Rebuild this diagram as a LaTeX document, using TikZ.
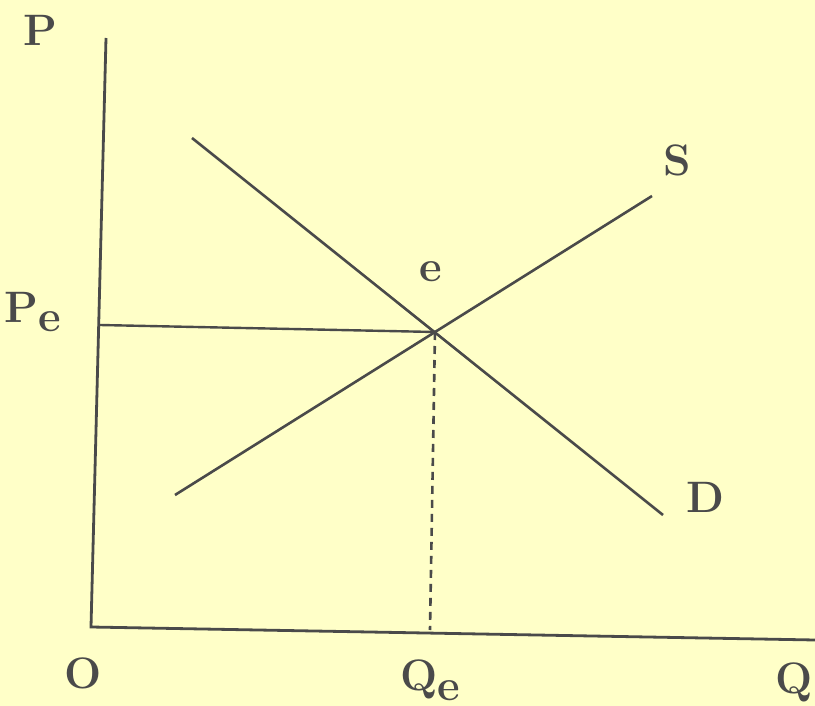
\documentclass[tikz,border=0pt]{standalone}
\usepackage{xcolor}
\usetikzlibrary{positioning, calc}
\definecolor{paper}{HTML}{FFFFC8}
\definecolor{ink}{HTML}{4A4A4A}
\begin{document}
\begin{tikzpicture}[
x=0.5pt, y=-0.5pt,
    axis/.style={draw=ink, line width=1.4pt},
    curve/.style={draw=ink, line width=1.3pt},
    guide/.style={draw=ink, line width=1.2pt},
    dropline/.style={draw=ink, line width=1.3pt, dash pattern=on 4pt off 3pt},
    lbl/.style={text=ink, font=\fontsize{22}{26}\selectfont\bfseries, inner sep=0pt}
]
    \fill[paper] (0,0) rectangle (815,706);
    \useasboundingbox (0,0) rectangle (815,706);

    % --- Axes ---
    \coordinate (origin) at (91,627);
    \coordinate (ptop) at (106,38);
    \coordinate (qend) at (815,640);
    \draw[axis] (ptop) -- (origin) -- (qend);
    \node[lbl] (plabel) at (40,30) {P};
    \node[lbl] (olabel) at (83,673) {O};
    \node[lbl] (qlabel) at (794,682) {Q};

    % --- Demand and Supply ---
    \coordinate (d1) at (192,138);
    \coordinate (d2) at (663,515);
    \coordinate (s1) at (175,495);
    \coordinate (s2) at (652,196);
    \draw[curve] (d1) -- (d2);
    \draw[curve] (s1) -- (s2);
    \node[lbl] (dlabel) at (705,497) {D};
    \node[lbl] (slabel) at (677,160) {S};

    % --- Equilibrium ---
    \coordinate (eq) at (435,332);
    \coordinate (pe) at (100,325);
    \coordinate (qe) at (430,630);
    \node[lbl] (elabel) at (431,272) {e};
    \draw[guide] (pe) -- (eq);
    \draw[dropline] (eq) -- (qe);
    \node[lbl] (pelabel) at (33,312) {P\raisebox{-0.22em}{e}};
    \node[lbl] (qelabel) at (430,680) {Q\raisebox{-0.22em}{e}};

\end{tikzpicture}
\end{document}
